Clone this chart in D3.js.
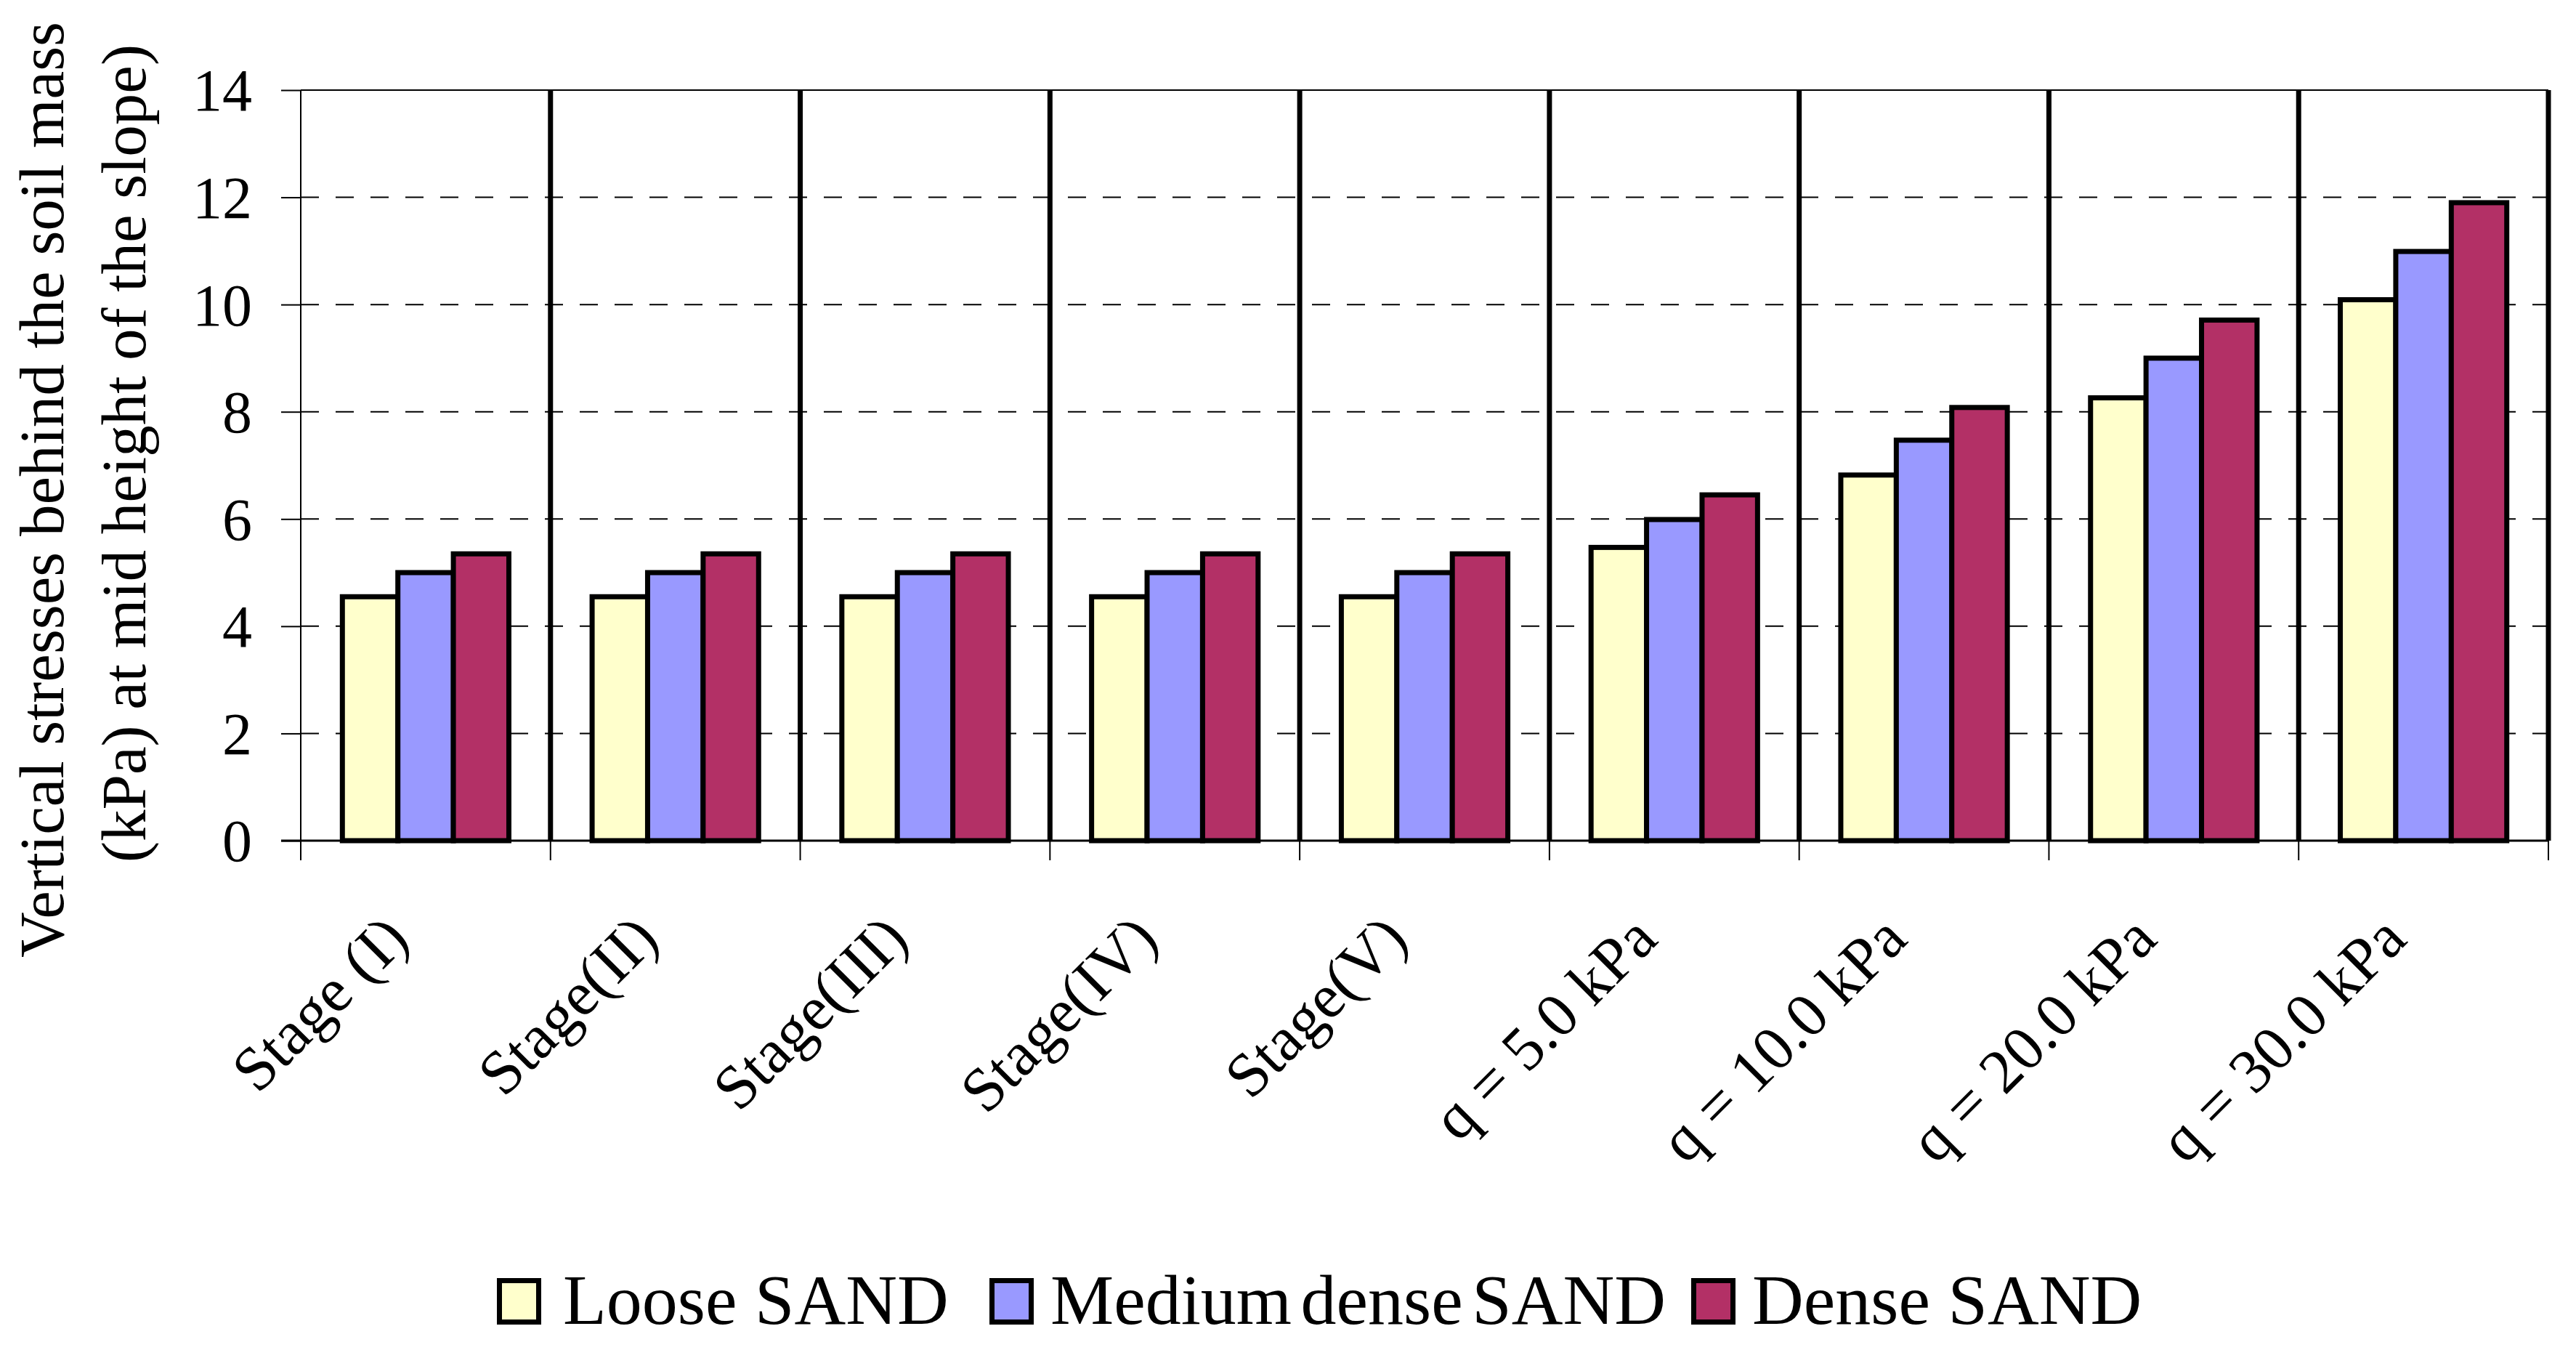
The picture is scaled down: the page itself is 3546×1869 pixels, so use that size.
<!DOCTYPE html>
<html><head><meta charset="utf-8">
<script src="https://cdn.jsdelivr.net/npm/d3@7"></script>
<style>
body{margin:0;background:#fff}
svg{display:block}
text{font-family:"Liberation Serif","Times New Roman",serif;fill:#000}
</style></head>
<body><svg id="c" width="3546" height="1869"></svg>
<script>
const categories = ["Stage (I)","Stage(II)","Stage(III)","Stage(IV)","Stage(V)","q = 5.0 kPa","q = 10.0 kPa","q = 20.0 kPa","q = 30.0 kPa"];
const seriesNames = ["Loose SAND","Medium dense SAND","Dense SAND"];
const looseSand = [4.55,4.55,4.55,4.55,4.55,5.47,6.82,8.26,10.09];
const mediumDenseSand = [5.0,5.0,5.0,5.0,5.0,5.99,7.47,9.0,10.99];
const denseSand = [5.35,5.35,5.35,5.35,5.35,6.45,8.08,9.71,11.9];
const yTicks = [0,2,4,6,8,10,12,14];
const colors = ["#FFFFCC","#9999FF","#B33066"];
const titleLines = ["Vertical stresses behind the soil mass","(kPa) at mid height of the slope)"];

const seriesValues = [looseSand, mediumDenseSand, denseSand];
const m = {l:414, r:3508, t:124, b:1157};
const svg = d3.select("#c");

const x = d3.scaleBand().domain(categories).range([m.l, m.r]).paddingInner(0).paddingOuter(0);
const xs = d3.scaleBand().domain(seriesNames).range([0, x.bandwidth()]).paddingInner(0).paddingOuter(0.75);
const y = d3.scaleLinear().domain([0, 14]).range([m.b, m.t]);

// dashed gridlines
svg.append("g").selectAll("line").data(yTicks.filter(v => v > 0 && v < 14)).join("line")
  .attr("x1", m.l).attr("x2", m.r).attr("y1", d => y(d)).attr("y2", d => y(d))
  .attr("stroke", "#000").attr("stroke-width", 2).attr("stroke-dasharray", "25,23");
// top border
svg.append("line").attr("x1", m.l).attr("x2", m.r).attr("y1", y(14)).attr("y2", y(14))
  .attr("stroke", "#000").attr("stroke-width", 2);

// y axis
const yAxis = d3.axisLeft(y).tickValues(yTicks).tickSize(27).tickSizeOuter(0).tickPadding(40);
const ga = svg.append("g").attr("transform", `translate(${m.l},0)`).call(yAxis);
ga.select(".domain").remove();
ga.selectAll(".tick line").attr("stroke", "#000").attr("stroke-width", 2);
ga.selectAll(".tick text").attr("font-size", 82).attr("font-family", "Liberation Serif").attr("fill", "#000").attr("dy", "0.34em");
svg.append("line").attr("x1", m.l).attr("x2", m.l).attr("y1", m.t).attr("y2", m.b + 27)
  .attr("stroke", "#000").attr("stroke-width", 2);

// bars
const groups = svg.append("g").selectAll("g").data(seriesNames).join("g");
groups.each(function(s, si) {
  d3.select(this).selectAll("rect").data(categories).join("rect")
    .attr("x", c => x(c) + xs(s))
    .attr("width", xs.bandwidth())
    .attr("y", (c, i) => y(seriesValues[si][i]))
    .attr("height", (c, i) => y(0) - y(seriesValues[si][i]))
    .attr("fill", colors[si]).attr("stroke", "#000").attr("stroke-width", 7);
});

// category separators
const bounds = categories.map(c => x(c)).concat([m.r]);
svg.append("g").selectAll("line").data(bounds.slice(1)).join("line")
  .attr("x1", d => d).attr("x2", d => d).attr("y1", m.t).attr("y2", m.b)
  .attr("stroke", "#000").attr("stroke-width", 7);
// x axis line and ticks
svg.append("line").attr("x1", m.l - 27).attr("x2", m.r).attr("y1", m.b).attr("y2", m.b)
  .attr("stroke", "#000").attr("stroke-width", 3);
svg.append("g").selectAll("line").data(bounds.slice(1)).join("line")
  .attr("x1", d => d).attr("x2", d => d).attr("y1", m.b).attr("y2", m.b + 27)
  .attr("stroke", "#000").attr("stroke-width", 2);

// category labels
svg.append("g").selectAll("text").data(categories).join("text")
  .attr("transform", c => `translate(${x(c) + x.bandwidth() / 2 - 20},1296) rotate(-45)`)
  .attr("text-anchor", "end").attr("font-size", 86).text(c => c);

// y title
const titlePos = [[87, 674], [200, 624]];
svg.append("g").selectAll("text").data(titleLines).join("text")
  .attr("transform", (d, i) => `translate(${titlePos[i][0]},${titlePos[i][1]}) rotate(-90)`)
  .attr("text-anchor", "middle").attr("font-size", 87).text(d => d);

// legend
const legendX = [684, 1362, 2328];
const lg = svg.append("g");
seriesNames.forEach((s, i) => {
  const lx = legendX[i];
  lg.append("rect").attr("x", lx + 3.5).attr("y", 1762.5).attr("width", 54).attr("height", 57)
    .attr("fill", colors[i]).attr("stroke", "#000").attr("stroke-width", 7);
  lg.append("text").attr("x", lx + (i === 0 ? 91 : 84)).attr("y", 1822).attr("font-size", 98)
    .attr("word-spacing", i === 1 ? -12 : 0).text(s);
});
</script>
</body></html>
